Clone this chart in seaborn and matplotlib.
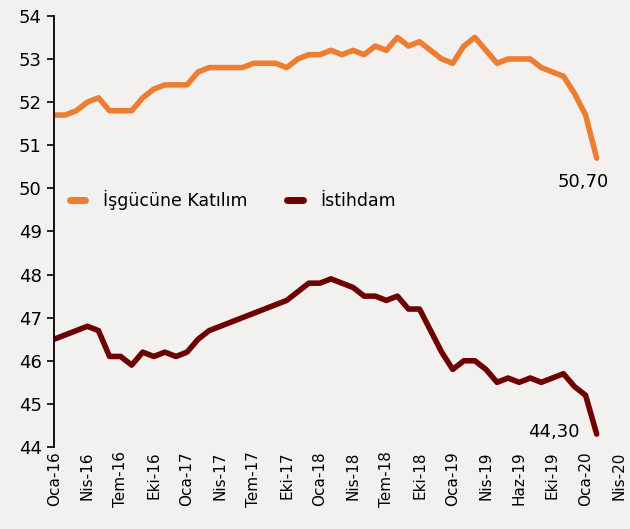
import numpy as np
import pandas as pd
import seaborn as sns
import matplotlib
matplotlib.use('Agg')
import matplotlib.pyplot as plt

# monthly series, Oca-16 .. Şub-20
katilim = [51.7, 51.7, 51.8, 52.0, 52.1, 51.8, 51.8, 51.8, 52.1, 52.3,
           52.4, 52.4, 52.4, 52.7, 52.8, 52.8, 52.8, 52.8, 52.9, 52.9,
           52.9, 52.8, 53.0, 53.1, 53.1, 53.2, 53.1, 53.2, 53.1, 53.3,
           53.2, 53.5, 53.3, 53.4, 53.2, 53.0, 52.9, 53.3, 53.5, 53.2,
           52.9, 53.0, 53.0, 53.0, 52.8, 52.7, 52.6, 52.2, 51.7, 50.7]
istihdam = [46.5, 46.6, 46.7, 46.8, 46.7, 46.1, 46.1, 45.9, 46.2, 46.1,
            46.2, 46.1, 46.2, 46.5, 46.7, 46.8, 46.9, 47.0, 47.1, 47.2,
            47.3, 47.4, 47.6, 47.8, 47.8, 47.9, 47.8, 47.7, 47.5, 47.5,
            47.4, 47.5, 47.2, 47.2, 46.7, 46.2, 45.8, 46.0, 46.0, 45.8,
            45.5, 45.6, 45.5, 45.6, 45.5, 45.6, 45.7, 45.4, 45.2, 44.3]
tick_labels = ['Oca-16', 'Nis-16', 'Tem-16', 'Eki-16', 'Oca-17', 'Nis-17',
               'Tem-17', 'Eki-17', 'Oca-18', 'Nis-18', 'Tem-18', 'Eki-18',
               'Oca-19', 'Nis-19', 'Haz-19', 'Eki-19', 'Oca-20', 'Nis-20']
series_names = ['İşgücüne Katılım', 'İstihdam']

n = len(katilim)
df = pd.DataFrame({
    'ay': list(range(n)) * 2,
    'deger': katilim + istihdam,
    'seri': [series_names[0]] * n + [series_names[1]] * n,
})

sns.set_style('ticks')
plt.rcParams['font.family'] = ['DejaVu Sans']
plt.rcParams['text.color'] = 'black'
plt.rcParams['xtick.color'] = 'black'
plt.rcParams['ytick.color'] = 'black'
bg = '#f2f1f0'

fig = plt.figure(figsize=(6.3, 5.29), dpi=100, facecolor=bg)
ax = fig.add_axes([0.086, 0.155, 0.898, 0.815], facecolor=bg)
sns.lineplot(data=df, x='ay', y='deger', hue='seri',
             palette=['#ED7D31', '#6E0000'], linewidth=4, ax=ax,
             legend=True)

ax.set_ylim(44, 54)
ax.set_yticks(range(44, 55))
ax.set_xlim(0, 51.1)
ax.set_xticks(range(0, 3 * len(tick_labels), 3))
ax.set_xticklabels(tick_labels, rotation=90)
ax.tick_params(axis='x', length=0, labelsize=11, pad=3)
ax.tick_params(axis='y', length=5, width=1.2, labelsize=13, pad=4)
ax.set_xlabel('')
ax.set_ylabel('')
for s in ['top', 'right', 'bottom']:
    ax.spines[s].set_visible(False)
ax.spines['left'].set_linewidth(1.3)
ax.spines['left'].set_color('black')

leg = ax.legend(loc='center left', bbox_to_anchor=(0.0, 0.573), ncol=2,
                frameon=False, fontsize=12.5, handlelength=0.9,
                columnspacing=2.3, handletextpad=1.0)
for line in leg.get_lines():
    line.set_linewidth(5)

ax.annotate('50,70', (n - 1, katilim[-1]), xytext=(-10, -21),
            textcoords='offset points', ha='center', fontsize=13)
ax.annotate('44,30', (n - 1, istihdam[-1]), xytext=(-31, -2),
            textcoords='offset points', ha='center', fontsize=13)

fig.savefig('out.png', dpi=100, facecolor=bg)
